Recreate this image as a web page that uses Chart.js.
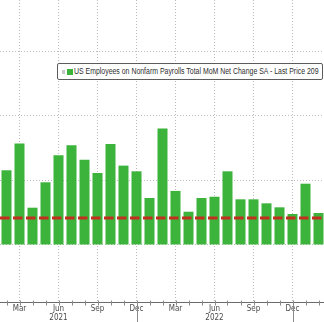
<!DOCTYPE html>
<html>
<head>
<meta charset="utf-8">
<script src="https://cdn.jsdelivr.net/npm/chart.js@4/dist/chart.umd.min.js"></script>
<style>
  html, body { margin: 0; padding: 0; background: #fff; overflow: hidden; width: 324px; height: 322px; }
  #wrap { position: relative; width: 325px; height: 322px; }
  #c { display: block; }
  #legend {
    position: absolute; left: 57px; top: 63px; width: 264px; height: 15px;
    border: 1px solid #5c5c5c; border-radius: 2px; background: #fff;
    font-family: "Liberation Sans", Arial, sans-serif; font-size: 8.5px; color: #2e2e2e;
  }
  #legend .grip { position: absolute; left: 4px; top: 6px; width: 3px; height: 4px; background: #c9c9c9; }
  #legend .swatch { position: absolute; left: 9px; top: 5px; width: 6px; height: 6px; background: #3cb43c; }
  #legend .txt { position: absolute; left: 16px; top: 2px; white-space: nowrap; transform-origin: 0 50%; line-height: 11px; }
</style>
</head>
<body>
<div id="wrap">
  <canvas id="c" width="325" height="322"></canvas>
  <div id="legend"><span class="grip"></span><span class="swatch"></span><span class="txt" id="legendText"></span></div>
</div>
<script>
// Monthly payroll change (thousands), Feb 2021 – Feb 2023
const months = ['Feb','Mar','Apr','May','Jun','Jul','Aug','Sep','Oct','Nov','Dec',
                'Jan','Feb','Mar','Apr','May','Jun','Jul','Aug','Sep','Oct','Nov','Dec',
                'Jan','Feb'];
const years  = [2021,2021,2021,2021,2021,2021,2021,2021,2021,2021,2021,
                2022,2022,2022,2022,2022,2022,2022,2022,2022,2022,2022,2022,
                2023,2023];
const payrollChange = [579, 786, 289, 486, 695, 773, 661, 558, 783, 615, 571,
                       364, 902, 419, 258, 364, 374, 571, 354, 354, 323, 292, 240,
                       475, 248];
const lastPrice = 209;
const seriesName = 'US Employees on Nonfarm Payrolls Total MoM Net Change SA - Last Price ' + lastPrice;
const quarterMonths = ['Mar', 'Jun', 'Sep', 'Dec'];

const labels = months.map((m, i) => m + ' ' + years[i]);

// legend text, squeezed to the narrow terminal-style width
const lt = document.getElementById('legendText');
lt.textContent = seriesName;
(function fitLegend() {
  const m = document.createElement('canvas').getContext('2d');
  m.font = '8.5px "Liberation Sans", Arial, sans-serif';
  const w = m.measureText(seriesName).width;
  lt.style.transform = 'scaleX(' + (245 / w).toFixed(4) + ')';
})();

const gridGrey = '#bcbcbc';

const axisDecor = {
  id: 'axisDecor',
  afterDatasetsDraw(chart) {
    const { ctx, chartArea, scales: { y } } = chart;
    const yp = y.getPixelForValue(lastPrice);
    ctx.save();
    ctx.strokeStyle = '#c22f1e';
    ctx.lineWidth = 3;
    ctx.setLineDash([9.5, 3.5]);
    ctx.beginPath();
    ctx.moveTo(chartArea.left, yp);
    ctx.lineTo(chartArea.right, yp);
    ctx.stroke();
    ctx.restore();
  },
  afterDraw(chart) {
    const { ctx, chartArea, scales: { x } } = chart;
    const b = Math.round(chartArea.bottom) + 0.5;
    ctx.save();
    ctx.strokeStyle = '#6a6a6a';
    ctx.lineWidth = 1;
    ctx.beginPath();
    ctx.moveTo(chartArea.left, b);
    ctx.lineTo(chartArea.right, b);
    ctx.stroke();
    ctx.strokeStyle = '#8a8a8a';
    months.forEach((m, i) => {
      const px = Math.round(x.getPixelForValue(i)) + 0.5;
      ctx.beginPath();
      if (m === 'Dec') {
        ctx.moveTo(px, b - 2);
        ctx.lineTo(px, chart.height);
      } else {
        ctx.moveTo(px, b - 2);
        ctx.lineTo(px, b + 3);
      }
      ctx.stroke();
    });
    ctx.restore();
  }
};

new Chart(document.getElementById('c'), {
  type: 'bar',
  data: {
    labels: labels,
    datasets: [{
      label: seriesName,
      data: payrollChange,
      backgroundColor: '#3cb43c',
      borderWidth: 0,
      categoryPercentage: 1.0,
      barPercentage: 0.77
    }]
  },
  options: {
    responsive: false,
    animation: false,
    devicePixelRatio: 1,
    layout: { padding: 0 },
    plugins: { legend: { display: false }, tooltip: { enabled: false } },
    scales: {
      x: {
        offset: true,
        grid: {
          offset: false,
          drawTicks: false,
          lineWidth: 1,
          color: (c) => (c.tick && quarterMonths.includes(months[c.index])) ? gridGrey : 'rgba(0,0,0,0)'
        },
        border: { display: false, dash: [1, 2] },
        ticks: {
          autoSkip: false,
          maxRotation: 0,
          padding: 3,
          color: '#4a4a4a',
          font: { family: '"Liberation Sans Narrow", "DejaVu Sans Condensed", "Liberation Sans", sans-serif', size: 8, lineHeight: 1.05 },
          callback: function (v, i) {
            const m = months[i];
            if (!quarterMonths.includes(m)) return '';
            return m === 'Jun' ? [m, String(years[i])] : m;
          }
        },
        afterFit: (s) => { s.height = 20; }
      },
      y: {
        min: -442,
        max: 1899,
        grid: { color: gridGrey, drawTicks: false, lineWidth: 1 },
        border: { display: false, dash: [1, 2] },
        ticks: { display: false },
        afterBuildTicks: (s) => {
          s.ticks = [0, 500, 1000, 1500].map(v => ({ value: v }));
        },
        afterFit: (s) => { s.width = 0; }
      }
    }
  },
  plugins: [axisDecor]
});
</script>
</body>
</html>
